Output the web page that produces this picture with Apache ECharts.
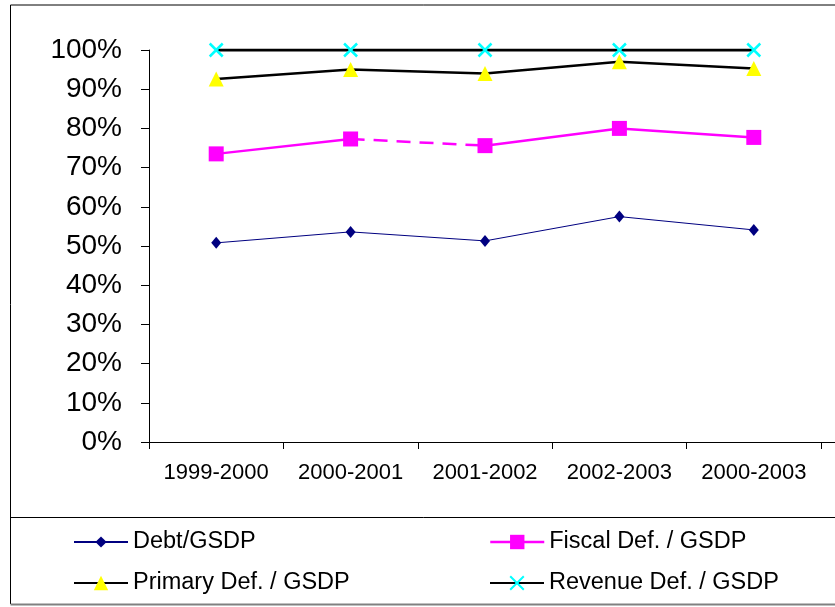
<!DOCTYPE html>
<html>
<head>
<meta charset="utf-8">
<script src="https://cdn.jsdelivr.net/npm/echarts@6/dist/echarts.min.js"></script>
<style>
  html, body { margin: 0; padding: 0; background: #fff; }
  #chart { width: 835px; height: 607px; }
</style>
</head>
<body>
<div id="chart"></div>
<script>
// 数据
var years = ['1999-2000', '2000-2001', '2001-2002', '2002-2003', '2000-2003'];
var debt = [50.8, 53.6, 51.3, 57.5, 54.1];
var fiscal = [73.5, 77.3, 75.6, 80.0, 77.7];
var primary = [92.6, 95.0, 94.0, 97.0, 95.3];
var revenue = [100, 100, 100, 100, 100];
var yTicks = [0, 10, 20, 30, 40, 50, 60, 70, 80, 90, 100];

var FONT = "'Liberation Sans', Arial, sans-serif";
var crossPath = 'path://M0,0L10,10M10,0L0,10';

// fiscal line: solid except the 2nd segment which is dashed
function part(arr, from, to) {
  return arr.map(function (v, i) { return (i >= from && i <= to) ? v : '-'; });
}

var myChart = echarts.init(document.getElementById('chart'));

function oneLegend(name, left, top, h, extra) {
  var item = { name: name };
  if (extra) Object.assign(item, extra);
  return {
    data: [item],
    left: left,
    top: top,
    padding: 0,
    itemWidth: 54,
    itemHeight: h,
    selectedMode: false,
    textStyle: { fontSize: 23.5, fontFamily: FONT, color: '#000' }
  };
}

var option = {
  animation: false,
  backgroundColor: '#fff',
  grid: { left: 149, top: 50, right: 14, bottom: 165 },
  xAxis: {
    type: 'category',
    data: years,
    boundaryGap: true,
    axisLine: { lineStyle: { color: '#000', width: 1 } },
    axisTick: { show: true, inside: false, length: 7, interval: 0, lineStyle: { color: '#000' } },
    axisLabel: { fontSize: 22, fontFamily: FONT, color: '#000', margin: 20, interval: 0 },
    splitLine: { show: false }
  },
  yAxis: {
    type: 'value',
    min: yTicks[0],
    max: yTicks[yTicks.length - 1],
    interval: 10,
    axisLine: { show: true, lineStyle: { color: '#000', width: 1 } },
    axisTick: { show: true, inside: false, length: 8, lineStyle: { color: '#000' } },
    axisLabel: { fontSize: 28, fontFamily: FONT, color: '#000', margin: 27, formatter: '{value}%' },
    splitLine: { show: false }
  },
  legend: [
    oneLegend('Debt/GSDP', 73, 530, 14),
    oneLegend('Primary Def. / GSDP', 73, 571, 18),
    oneLegend('Fiscal Def. / GSDP', 489, 530, 18, { lineStyle: { color: '#ff00ff', width: 2.5, opacity: 1, type: 'solid' } }),
    oneLegend('Revenue Def. / GSDP', 489, 571, 17)
  ],
  graphic: [
    { type: 'line', shape: { x1: 10.5, y1: 5, x2: 840, y2: 5 }, style: { stroke: '#000', lineWidth: 1 } },
    { type: 'line', shape: { x1: 10.5, y1: 5, x2: 10.5, y2: 604 }, style: { stroke: '#000', lineWidth: 1 } },
    { type: 'line', shape: { x1: 10.5, y1: 517.5, x2: 840, y2: 517.5 }, style: { stroke: '#000', lineWidth: 1 } },
    { type: 'line', shape: { x1: 10.5, y1: 604.5, x2: 840, y2: 604.5 }, style: { stroke: '#808080', lineWidth: 2 } },
    { type: 'line', shape: { x1: 821, y1: 442.5, x2: 835, y2: 442.5 }, style: { stroke: '#000', lineWidth: 1 } }
  ],
  series: [
    {
      name: 'Debt/GSDP',
      type: 'line',
      data: debt,
      symbol: 'diamond',
      symbolSize: [10, 12],
      itemStyle: { color: '#000080' },
      lineStyle: { color: '#000080', width: 1 },
      z: 3
    },
    // fiscal helper segments
    {
      name: 'fiscal-a', type: 'line', data: part(fiscal, 0, 1), symbol: 'none',
      lineStyle: { color: '#ff00ff', width: 2.5 }, z: 2, silent: true
    },
    {
      name: 'fiscal-b', type: 'line', data: part(fiscal, 1, 2), symbol: 'none',
      lineStyle: { color: '#ff00ff', width: 2.5, type: [14, 9] }, z: 2, silent: true
    },
    {
      name: 'fiscal-c', type: 'line', data: part(fiscal, 2, 4), symbol: 'none',
      lineStyle: { color: '#ff00ff', width: 2.5 }, z: 2, silent: true
    },
    {
      name: 'Fiscal Def. / GSDP',
      type: 'line',
      data: fiscal,
      symbol: 'rect',
      symbolSize: 15,
      itemStyle: { color: '#ff00ff' },
      lineStyle: { color: '#ff00ff', width: 2.5, opacity: 0 },
      z: 4
    },
    {
      name: 'Primary Def. / GSDP',
      type: 'line',
      data: primary,
      symbol: 'triangle',
      symbolSize: [15, 15],
      itemStyle: { color: '#ffff00' },
      lineStyle: { color: '#000', width: 2.5 },
      z: 5
    },
    {
      name: 'Revenue Def. / GSDP',
      type: 'line',
      data: revenue,
      symbol: crossPath,
      symbolSize: 13,
      itemStyle: { color: 'none', borderColor: '#00ffff', borderWidth: 2.5 },
      lineStyle: { color: '#000', width: 3 },
      z: 6
    }
  ]
};

myChart.setOption(option);
</script>
</body>
</html>
